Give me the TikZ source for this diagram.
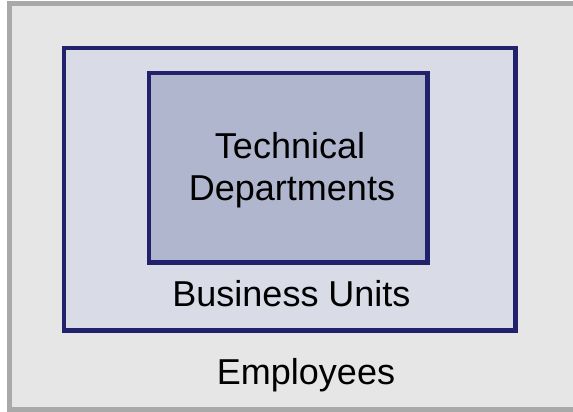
\documentclass[tikz,border=0pt]{standalone}
\usepackage{fontspec}
\setmainfont{Liberation Sans}
\definecolor{outerfill}{HTML}{E6E6E6}
\definecolor{outerline}{HTML}{A9A9A9}
\definecolor{navyline}{HTML}{22226C}
\definecolor{unitfill}{HTML}{D9DBE7}
\definecolor{deptfill}{HTML}{B0B6CD}
\tikzset{
  layer/.style={line join=miter},
  outerbox/.style={layer, fill=outerfill, draw=outerline, line width=5pt},
  unitbox/.style={layer, fill=unitfill, draw=navyline, line width=4.8pt},
  deptbox/.style={layer, fill=deptfill, draw=navyline, line width=4.8pt},
  label/.style={font=\fontsize{36}{42}\selectfont, inner sep=0pt, anchor=base, text=black}
}
\begin{document}
\begin{tikzpicture}[x=1pt, y=-1pt]
  \useasboundingbox (0,0) rectangle (573,412);
  % nested organisational levels
  \draw[outerbox] (9.5,4) rectangle (580,409);
  \draw[unitbox] (64,48) rectangle (515.5,330.5);
  \draw[deptbox] (149,73) rectangle (427.5,262.5);
  % level names
  \node[label] (techA) at (290,158) {Technical};
  \node[label] (techB) at (292,200) {Departments};
  \node[label] (units) at (291.5,306.5) {Business Units};
  \node[label] (staff) at (306,384) {Employees};
\end{tikzpicture}
\end{document}
